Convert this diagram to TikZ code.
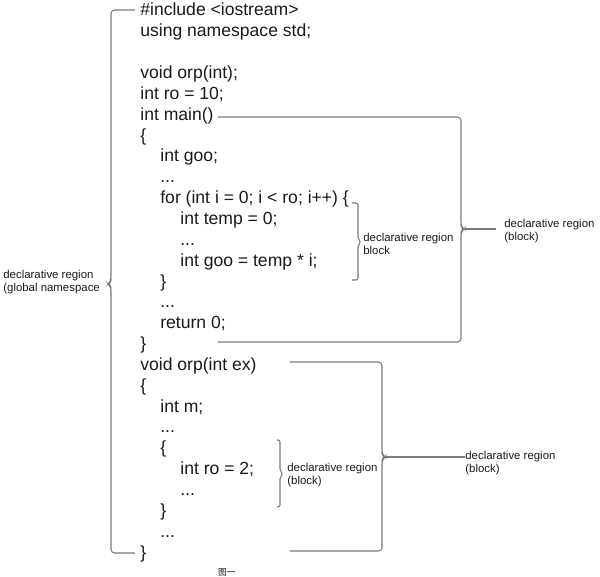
\documentclass[tikz,border=0pt]{standalone}
\usepackage{fontspec}
\setmainfont{Liberation Sans}
\newfontfamily\cjkfont{Noto Sans CJK SC}
\usetikzlibrary{positioning}
\definecolor{cline}{HTML}{7A7A7A}
\definecolor{ctext}{HTML}{1A1A1A}
\tikzset{
  codeline/.style={anchor=base west, inner sep=0pt, text=ctext,
    font=\fontsize{10}{12}\selectfont},
  regionlabel/.style={anchor=west, inner sep=0pt, align=left, text=ctext,
    font=\fontsize{6.5}{7.4}\selectfont},
  bracepath/.style={draw=cline, line width=0.6pt, rounded corners=2pt},
  regionlink/.style={draw=cline, line width=0.6pt}
}

\begin{document}
\begin{tikzpicture}[x=0.02cm, y=-0.02cm]
    \useasboundingbox (0,0) rectangle (600,577);

    % code lines
    \node[codeline] (inc)    at (140,16)     {\#include <iostream>};
    \node[codeline] (usens)  at (140,36.85)  {using namespace std;};
    \node[codeline] (orpdcl) at (140,78.55)  {void orp(int);};
    \node[codeline] (rodef)  at (140,99.4)   {int ro = 10;};
    \node[codeline] (mainhd) at (140,120.25) {int main()};
    \node[codeline] (mainob) at (140,141.1)  {\{};
    \node[codeline] (goo)    at (160,161.95) {int goo;};
    \node[codeline] (dotsa)  at (160,182.8)  {...};
    \node[codeline] (forhd)  at (160,203.65) {for (int i = 0; i < ro; i++) \{};
    \node[codeline] (temp)   at (180,224.5)  {int temp = 0;};
    \node[codeline] (dotsb)  at (180,245.35) {...};
    \node[codeline] (goob)   at (180,266.2)  {int goo = temp * i;};
    \node[codeline] (forcb)  at (160,287.05) {\}};
    \node[codeline] (dotsc)  at (160,307.9)  {...};
    \node[codeline] (ret)    at (160,328.75) {return 0;};
    \node[codeline] (maincb) at (140,349.6)  {\}};
    \node[codeline] (orphd)  at (140,370.45) {void orp(int ex)};
    \node[codeline] (orpob)  at (140,391.3)  {\{};
    \node[codeline] (intm)   at (160,412.15) {int m;};
    \node[codeline] (dotsd)  at (160,433)    {...};
    \node[codeline] (blkob)  at (160,453.85) {\{};
    \node[codeline] (rotwo)  at (180,474.7)  {int ro = 2;};
    \node[codeline] (dotse)  at (180,495.55) {...};
    \node[codeline] (blkcb)  at (160,516.4)  {\}};
    \node[codeline] (dotsf)  at (160,537.25) {...};
    \node[codeline] (orpcb)  at (140,558.1)  {\}};

    % braces
    \draw[bracepath] (135,10) -- (111,10) -- (111,281) -- (108,284)
      -- (111,287) -- (111,553) -- (135,553);
    \draw[bracepath] (218,117) -- (461,117) -- (461,226) -- (464,229)
      -- (461,232) -- (461,342) -- (218,342);
    \draw[bracepath, rounded corners=1.2pt] (352,203) -- (358,203) -- (358,239)
      -- (361,242) -- (358,245) -- (358,280) -- (352,280);
    \draw[bracepath] (290,362) -- (382,362) -- (382,454) -- (385,457)
      -- (382,460) -- (382,551) -- (290,551);
    \draw[bracepath, rounded corners=1.2pt] (277,440) -- (280,440) -- (280,471)
      -- (283,474) -- (280,477) -- (280,507) -- (277,507);

    \coordinate (mainTip) at (464,229);
    \coordinate (orpTip) at (385,457);

    % region labels
    \node[regionlabel] (globLbl) at (3,282.5)   {declarative region\\(global namespace};
    \node[regionlabel] (mainLbl) at (504,231.5) {declarative region\\(block)};
    \node[regionlabel] (forLbl)  at (363,243.5) {declarative region\\block};
    \node[regionlabel] (orpLbl)  at (465,463.5) {declarative region\\(block)};
    \node[regionlabel] (blkLbl)  at (287,475.5) {declarative region\\(block)};

    \draw[regionlink, shorten >=0.16cm] (mainTip) -- (mainTip -| mainLbl.west);
    \draw[regionlink] (orpTip) -- (orpTip -| orpLbl.west);

    % caption
    \node[inner sep=0pt, text=ctext, font=\cjkfont\fontsize{5}{6}\selectfont]
      (caption) at (227,572) {图一};
  \end{tikzpicture}
\end{document}
